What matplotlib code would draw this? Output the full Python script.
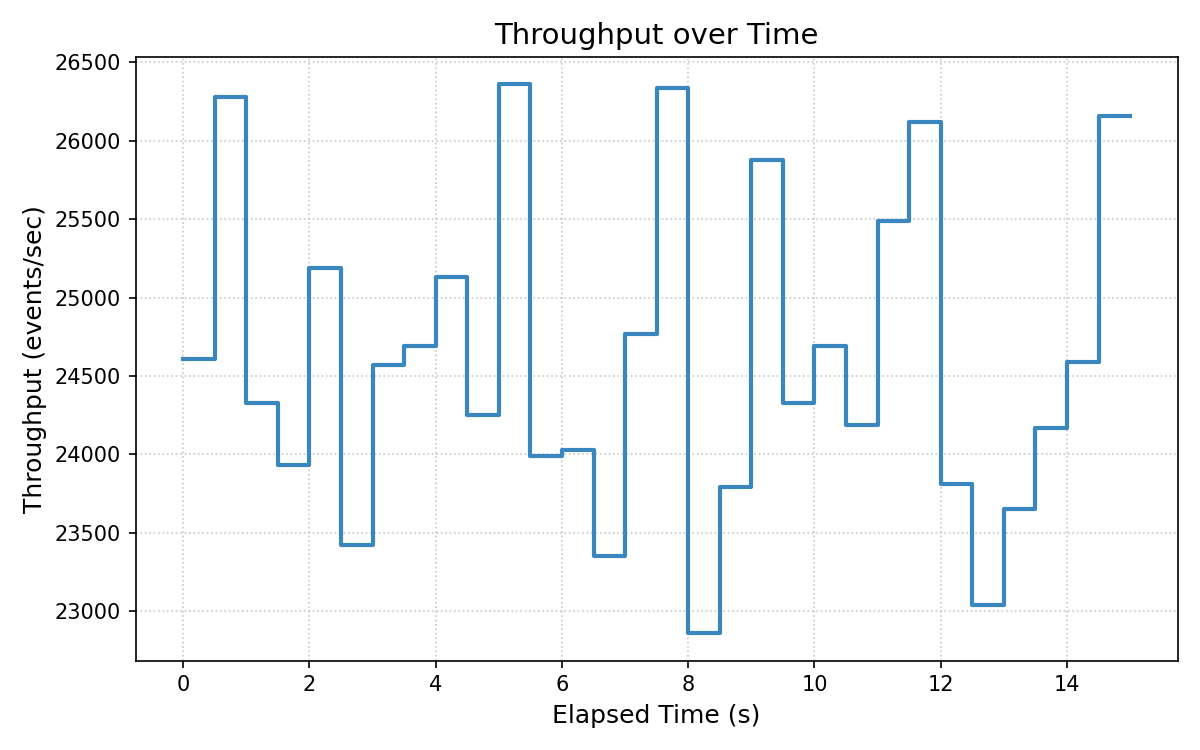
import numpy as np
import matplotlib
matplotlib.use("Agg")
import matplotlib.pyplot as plt

# Throughput per 0.5 s interval (events/sec)
throughput = [
    24610, 26280, 24330, 23930, 25190, 23420, 24570, 24690, 25130, 24250,
    26360, 23990, 24030, 23350, 24770, 26340, 22860, 23790, 25880, 24330,
    24690, 24190, 25490, 26120, 23810, 23040, 23650, 24170, 24590, 26160,
]
# interval start times, plus the end time of the last interval
elapsed = np.arange(0, 15.5, 0.5)

y = throughput + [throughput[-1]]

fig, ax = plt.subplots(figsize=(8, 5), dpi=150)

ax.step(elapsed, y, where="post", color="#3a86be", linewidth=2)

ax.set_title("Throughput over Time", fontsize=14)
ax.set_xlabel("Elapsed Time (s)", fontsize=12)
ax.set_ylabel("Throughput (events/sec)", fontsize=12)
ax.grid(True, linestyle=":", color="#bbbbbb", alpha=0.8)

plt.tight_layout()
plt.savefig("out.png")
